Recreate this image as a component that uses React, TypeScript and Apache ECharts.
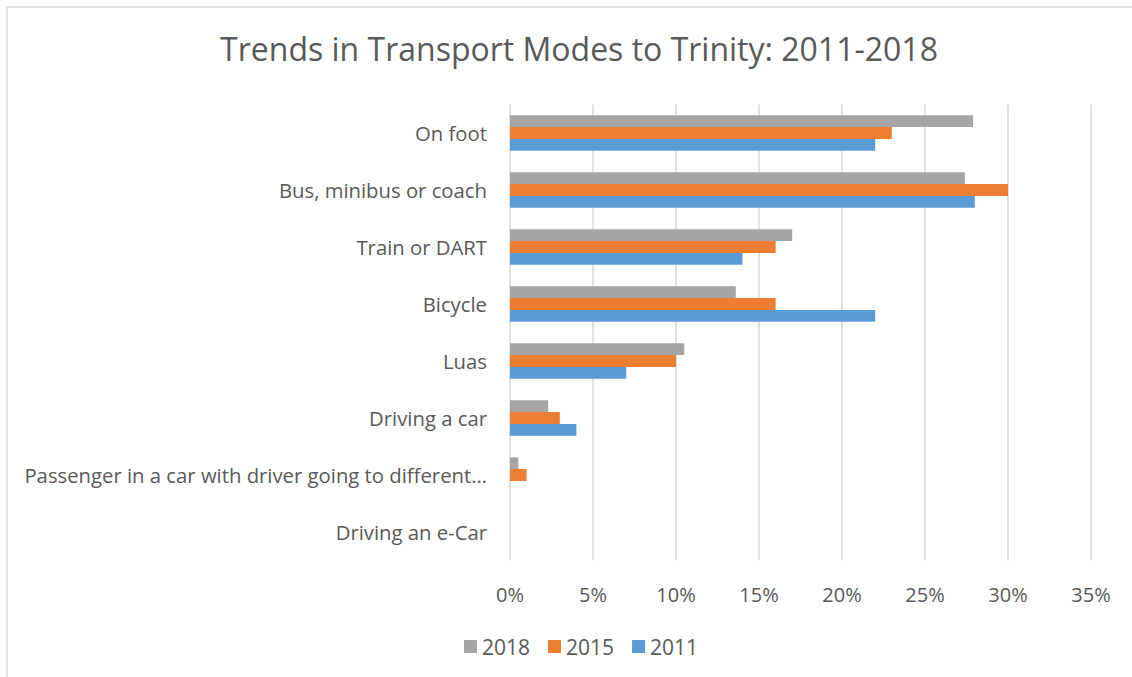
import React, { useEffect, useRef } from "react";
import * as echarts from "echarts";

const categories = [
  "On foot",
  "Bus, minibus or coach",
  "Train or DART",
  "Bicycle",
  "Luas",
  "Driving a car",
  "Passenger in a car with driver going to different…",
  "Driving an e-Car",
];
const years = ["2018", "2015", "2011"];
const values2018 = [27.9, 27.4, 17.0, 13.6, 10.5, 2.3, 0.5, 0];
const values2015 = [23.0, 30.0, 16.0, 16.0, 10.0, 3.0, 1.0, 0];
const values2011 = [22.0, 28.0, 14.0, 22.0, 7.0, 4.0, 0, 0];
const colors = ["#A5A5A5", "#ED7D31", "#5B9BD5"];
const xTicks = [0, 5, 10, 15, 20, 25, 30, 35];

const FONT = "'Open Sans', 'Liberation Sans', sans-serif";

export default function App() {
  const ref = useRef<HTMLDivElement>(null);
  useEffect(() => {
    if (!ref.current) return;
    const chart = echarts.init(ref.current, null, { renderer: "svg" });
    const seriesData = [values2018, values2015, values2011];
    chart.setOption({
      animation: false,
      backgroundColor: "#ffffff",
      title: {
        text: "Trends in Transport Modes to Trinity: 2011-2018",
        left: 574,
        textAlign: "center",
        top: 27,
        textStyle: { fontFamily: FONT, fontSize: 32, fontWeight: "normal", color: "#595959" },
      },
      legend: {
        data: years,
        left: 459,
        top: 631,
        itemWidth: 13,
        itemHeight: 13,
        itemGap: 18,
        icon: "rect",
        textStyle: { fontFamily: FONT, fontSize: 21, color: "#595959" },
      },
      graphic: [
        {
          type: "rect",
          shape: { x: 7, y: 7, width: 1200, height: 700 },
          style: { fill: "none", stroke: "#D9D9D9", lineWidth: 1.5 },
          silent: true,
        },
      ],
      grid: { left: 510, right: 41, top: 104.5, bottom: 116.5, containLabel: false },
      xAxis: {
        type: "value",
        min: xTicks[0],
        max: xTicks[xTicks.length - 1],
        interval: 5,
        axisLine: { show: false },
        axisTick: { show: false },
        splitLine: { show: true, lineStyle: { color: "#D9D9D9", width: 1.5 } },
        axisLabel: {
          formatter: (v: number) => v + "%",
          fontFamily: FONT,
          fontSize: 20,
          color: "#595959",
          margin: 24,
        },
      },
      yAxis: {
        type: "category",
        data: categories,
        inverse: true,
        axisLine: { show: false },
        axisTick: { show: false },
        axisLabel: {
          fontFamily: FONT,
          fontSize: 20.3,
          color: "#595959",
          margin: 23,
        },
      },
      series: years.map((y, i) => ({
        name: y,
        type: "bar",
        data: seriesData[i],
        barGap: "0%",
        barCategoryGap: "38%",
        itemStyle: { color: colors[i] },
      })),
    });
    return () => chart.dispose();
  }, []);
  return (
    <div
      ref={ref}
      style={{ position: "absolute", left: 0, top: 0, width: 1132, height: 677 }}
    />
  );
}
